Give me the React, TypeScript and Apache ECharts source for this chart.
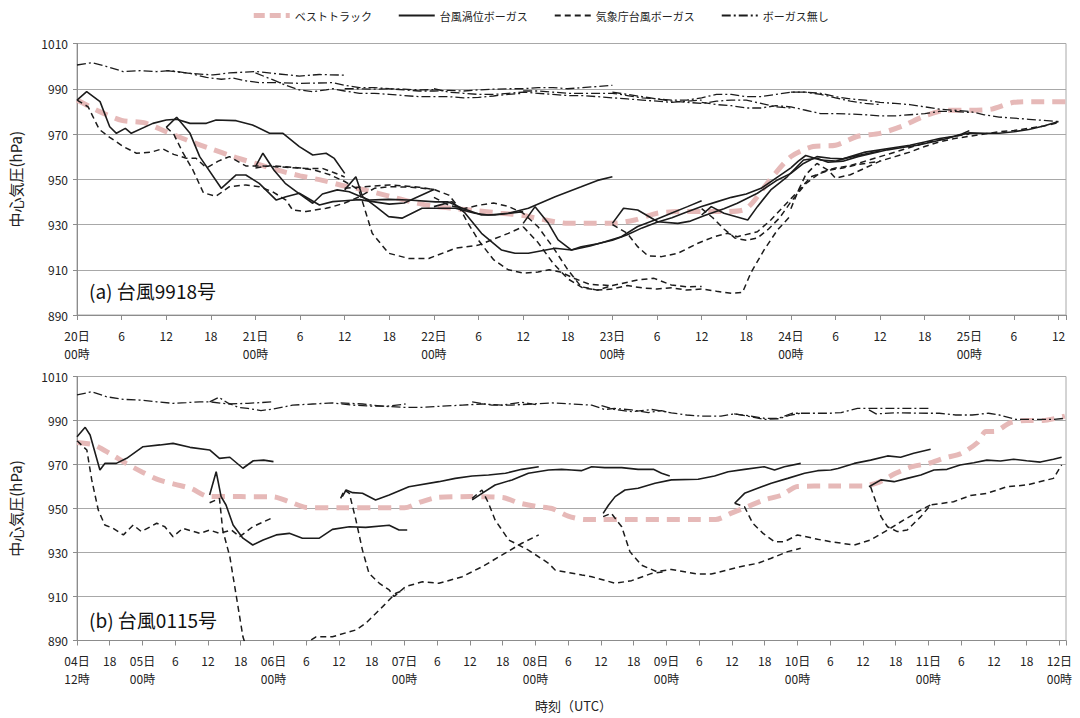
import React, { useEffect, useRef } from "react";
import * as echarts from "echarts";

// ---------- panel (a) 台風9918号 : hours from 20日00時 ----------
const A_BEST = [[0,985],[3,980],[6,976],[9,975],[12,971],[15,967],[18,963.5],[21,960],[24,957],[27,954],[30,951.5],[33,949.5],[36,947],[39,945],[42,942.5],[45,940],[48,938],[51,937],[54,936],[57,935],[60,934],[63,932],[66,930.5],[69,930.5],[72,930.5],[75,932],[78,935],[81,935.7],[84,935.7],[87,935.7],[90,937],[93,949],[96,960],[99,964.5],[102,965],[105,969],[108,970.3],[111,973.5],[114,978],[117,980.5],[120,980.5],[123,981],[126,984],[129,984.3],[133,984.3]];

const A_PV_00 = [[0,985],[1.3,988.7],[3.1,984.3],[4.4,973.2],[5.3,970.3],[6.5,972.5],[7.3,970.3],[10.2,974.7],[12,976.2],[13.4,976.5],[15.2,974.7],[17.4,974.7],[18.7,976.2],[21.4,975.9],[23.6,974],[25.9,970.3],[27.7,970.3],[29.9,964.4],[31.7,960.7],[33.5,961.5],[34.6,959.2],[36,952.6]];
const A_PV_12 = [[12,972.9],[13.4,977.4],[15.2,970.3],[16.5,960],[19.4,946],[21.4,951.9],[22.7,951.9],[24.5,948.2],[26.8,940.8],[28.1,942.3],[29.9,943.8],[32.6,938.6],[34.4,940.1],[36,940.5],[38,941],[40,940],[42,939],[44,939.5],[46,942.5],[48,945.5]];
const A_PV_24 = [[24,955.6],[25,961.5],[26.5,954],[28,948.2],[29.5,944.5],[31.7,939.4],[33,943.5],[35,945.3],[36.6,944.5],[38.2,942.3],[39.3,940.8],[41.9,941.1],[44.6,940.8],[48.2,940],[49.9,940],[51.8,937.2],[54.4,934.2],[56.2,934.2],[60,935.7]];
const A_PV_36 = [[36,945.3],[37.5,951.1],[38.4,942.3],[40.2,937.9],[41.9,933.5],[43.7,932.8],[46.4,937.2],[50.9,937.2],[53.5,935],[55.3,934.2],[58,935],[60.7,937.2],[64.3,942.3],[67.8,946.7],[70,949.5],[72,951.1]];
const A_PV_48 = [[48,937.9],[50.4,940.1],[52.2,935],[54.4,926.1],[57.1,918.7],[58.9,917.3],[60.7,917.3],[64.3,919.5],[66.5,918.7],[69,920.5],[71,922.4],[73.2,924.6],[75.4,929.1],[77.7,932],[79.9,935],[82.1,937.9],[84,940.5]];
const A_PV_60 = [[60,930.5],[61.6,937.9],[63.4,930.5],[64.7,923.2],[66.5,918.7],[67.8,920.2],[70,921.5],[72,923],[74,925.5],[76,928.5],[78,931],[80,933],[82,935.5],[84,938],[86,940],[88,942],[90,943.5],[92,946],[94,950.5],[96,955]];
const A_PV_72 = [[72,930.5],[73.5,937.2],[75.4,936.4],[78.1,931.2],[80.8,930.5],[82.5,931.5],[84.4,934],[87,937],[88.8,939.4],[91.5,943.8],[94.2,949.7],[96,952.6],[97.7,957],[99.5,960],[101.3,959.3],[103,959],[105,960.5],[108,962.5]];
const A_PV_84 = [[84,934.2],[85.3,937.9],[87,935],[90.2,932],[91.5,937.9],[93.3,945.3],[95.5,951.1],[97.7,958.5],[99.5,959.3],[101,957.5],[103,958],[105,960],[107,961.5],[109,963],[111,964],[113,965],[115,966.5],[117,968],[119,970],[120,971.5]];
const A_PV_96 = [[96,955],[97,958],[98,960.5],[100,958.5],[102,958],[104,960],[106,962],[108,963],[110,964],[112,965],[114,966.5],[116,968],[118,969],[120,970.5],[122,970.3],[124,970.3],[126,971],[128,972],[130,973.5],[132,975.5]];

const A_JMA_00 = [[0,985],[1.5,982],[3,972],[4.4,968.5],[6.2,964.5],[8,961.5],[10,962],[11.5,963.5],[13,961],[14.7,959.3],[16,959.3],[17.4,955],[19,958],[20.5,960],[22.7,955.9],[24.5,955.9],[28.1,955.3],[30.8,954.8],[33,954.8],[34.5,953],[36,951]];
const A_JMA_12 = [[12,973],[13,970],[14.2,962],[15.6,954],[17,944],[18.7,942.5],[20.5,946.7],[22.7,947.5],[24.5,946.7],[26.3,944.5],[28.1,940.8],[29,936.4],[30.8,935.7],[33.5,937.2],[34.4,937.9],[36,939.5],[38,942.3],[40,946],[42,946.7],[45,946.5],[48,945.5]];
const A_JMA_24 = [[24,955],[26,956],[28,955.5],[30,955],[32,954],[34,952],[36,949],[37.9,945.3],[39.7,926.1],[41.9,917.3],[44.6,915],[47.3,915],[50.9,919.5],[54,920.9],[58,926.1],[60,929]];
const A_JMA_36 = [[36,946],[38,946.5],[40,947],[42,947.5],[44,947],[46,946.5],[48,945.5],[50,943],[51.5,937],[52.5,931],[54,923],[56,914.5],[58,910],[60,908.5],[62,909],[63.5,910],[65,909],[67,906],[69,903.5],[72,903]];
const A_JMA_48 = [[48,942],[50,938.5],[52,937],[54,938.5],[56,939.5],[58,938],[60,935],[62,929],[64,920],[66,910],[67.8,902.5],[70,901],[72,903],[75.4,905.5],[77.6,906.2],[79.9,903.3],[82,902.5],[84,902.6]];
const A_JMA_60 = [[60,929],[62,922],[64,913],[66,906],[68,902],[70,901],[72,901.5],[74,903],[76,902],[78,901.5],[80,902],[82,901],[84,901.5],[86,900.5],[88,899.6],[89.5,900],[90.6,908.5],[92.4,918.8],[94.2,927.6],[96,934]];
const A_JMA_72 = [[72,930],[74,926.1],[75.4,920.2],[76.8,916.1],[78.6,915.8],[80.8,917.3],[83.5,921.7],[85.7,924.6],[87.5,926.1],[88.8,924.6],[91.5,926.8],[93.3,932],[95,937.9],[96.9,944.5],[98.7,951.1],[101.3,954.1],[103,955],[105,956.5],[108,958]];
const A_JMA_84 = [[84,937],[85.5,933],[87,928],[88.5,924],[90,923],[91.5,924],[93,928],[94.5,933],[96,940],[98,948],[100,953],[102,955],[104,956],[106,958],[108,960],[110,962],[112,964],[114,966],[116,967.5],[118,969],[120,970]];
const A_JMA_96 = [[96,937],[97,945],[98,952],[99.5,957],[101,954],[102,950.5],[104,952],[106,955],[108,958],[110,960],[112,962],[114,964.5],[116,966.5],[118,968],[120,969],[122,970],[124,971],[126,971.5],[128,972.5],[130,973.5],[132,975]];

const A_NONE_00 = [[0,1000.5],[2,1001.5],[4,999.8],[6.2,997.6],[8.5,998],[10.7,997.6],[12.5,998],[15.2,996.8],[18.3,996.1],[20.5,997],[24.1,997.6],[26.3,996.8],[29.9,995.6],[32.6,996.3],[36,996]];
const A_NONE_12 = [[12,998],[15.2,996.8],[17.4,995],[19.4,994.2],[21,994.7],[22.7,993.5],[24.5,992.7],[27,992.7],[29.9,992.4],[32,992.5],[34.4,992.7],[36,991.5],[38,990.5],[40,990.5],[42,990],[44,989.8],[46,989.5],[48,989.6]];
const A_NONE_24 = [[24,997],[26.3,994],[28.1,991.5],[29.9,989.5],[31.7,988.7],[33.5,989.5],[34.4,990],[36,989],[38,988],[40,988],[42,987.5],[44,987],[46,986.5],[48,986.5],[50,986.5],[52,986],[54,986.2],[56,986.8],[58,987.5],[60,988]];
const A_NONE_36 = [[36,990],[38,990],[40,989.8],[42,990],[44,989.5],[46,989],[48,989],[50,989.3],[52,989],[54,989.5],[56,989.8],[58,990],[60,990],[62,990.5],[64,990.5],[66,990],[68,990.5],[70,991],[72,991.5]];
const A_NONE_48 = [[48,990],[50,988.5],[52,988],[54,987.5],[56,987.5],[58,988],[60,988.5],[62,988],[64,987.5],[66,987],[68,987],[70,986.5],[72,986],[74,985.5],[76,985],[78,984.5],[80,984],[82,984.5],[84,985]];
const A_NONE_60 = [[60,989],[62,989],[64,988.5],[66,988],[68,988],[70,988],[72,988],[74,987],[76,986],[78,985.5],[80,984.5],[82,984],[84,983.5],[86,984.5],[88,985],[90,985],[92,983.5],[94,982],[96,981.5]];
const A_NONE_72 = [[72,988.5],[74,987.5],[76,986.5],[78,985.5],[80,985],[82,985],[84,986],[86,987.5],[88,987.5],[90,986.5],[92,986.5],[94,987.5],[96,988.5],[98,988.5],[100,987.5],[102,986],[104,984.5],[106,983.5],[108,983]];
const A_NONE_84 = [[84,984],[86,983],[88,982.5],[90,981.5],[92,981.5],[94,982.5],[96,982],[98,980.5],[100,979],[102,979],[104,978.8],[106,978.5],[108,978],[110,978],[112,978.5],[114,979],[116,980],[118,980],[120,979.5]];
const A_NONE_96 = [[96,988.5],[98,988.5],[100,988],[102,986.5],[104,985.5],[106,985],[108,984],[110,983.5],[112,983],[114,982],[116,981],[118,980.5],[120,980],[122,978.5],[124,977.5],[126,977],[128,976.5],[130,976],[132,975.5]];

// ---------- panel (b) 台風0115号 : hours from 04日12時 ----------
const B_BEST = [[0,980],[3,979],[6,975],[9,970.5],[12,966.5],[15,963],[18,961],[21,959],[24,955.5],[30,955.4],[36,955.3],[39,953],[42,950.5],[48,950.3],[54,950.3],[60,950.3],[63,953],[66,955],[72,955.4],[78,955],[81,952.5],[84,951],[87,950],[90,946.5],[93,945],[96,945],[102,945],[108,945],[114,945],[117,945],[120,948],[123,951],[126,954],[129,956],[132,960],[138,960.2],[144,960.2],[147,962],[150,966],[153,969],[156,970.5],[159,973],[162,975],[165,980],[166.5,985],[168,985],[171,989],[174,990],[177,990],[181,992]];

const B_PV_00 = [[0,982.6],[1.5,986.9],[2.4,983.4],[4.2,967.5],[5.1,970.5],[7.2,970.5],[9.1,972.8],[12.1,978.1],[15.2,978.9],[17.6,979.6],[20.7,977.8],[24.3,976.6],[26.1,972.8],[28,973.3],[30.4,968.3],[32.3,971.7],[34.2,972],[36,971.3]];
const B_PV_24 = [[24.3,956.1],[25.5,966.7],[26.4,955.4],[27.3,951.6],[28.6,942.5],[30.4,936.5],[32.2,933.4],[34.1,935.7],[36.5,938],[38.9,938.7],[41.3,936.5],[44.4,936.5],[46.8,940.5],[49.9,941.7],[52.9,941.4],[57.2,942.4],[59,940.2],[60.5,940.2]];
const B_PV_48 = [[48.6,955.4],[49.3,958.4],[50.5,957.2],[52.3,956.9],[54.7,953.9],[57.2,956.1],[60.8,959.9],[66.3,962.2],[69.3,963.7],[72.4,964.8],[75.4,965.2],[78.5,966],[81.5,967.8],[84.6,969]];
const B_PV_72 = [[72.4,953.9],[74.2,956.9],[76.6,960.7],[79.7,963],[82.7,966],[86.4,967.5],[88.8,967.8],[90.6,967.5],[92.4,967.2],[94.3,969],[96.7,968.6],[99.8,968.6],[102.8,967.8],[105.6,967.8],[107.1,966],[108.6,964.8]];
const B_PV_96 = [[96.4,947.8],[97.4,951.6],[98.6,955.4],[100.4,958.4],[102.8,959.2],[105.9,961.5],[108.9,963],[113.8,963.3],[116.8,964.8],[119.3,966.7],[122.3,967.8],[125.9,969],[127.8,967.5],[129.6,969],[132.6,970.5]];
const B_PV_120 = [[120.5,952.4],[122.3,956.9],[124.7,959.2],[127.2,961.5],[130.2,963.7],[133.3,966],[135.7,967.2],[138.1,967.5],[139.4,968.2],[142.4,970.5],[145.4,972],[148.5,973.9],[150.9,973.3],[153.3,975.1],[156.4,976.9]];
const B_PV_144 = [[145.1,959.9],[147.3,963],[149.7,962.2],[152.1,963.7],[154.6,965.2],[157,967.5],[159.4,967.8],[161.8,969.8],[164.3,970.8],[166.7,972],[169.2,971.6],[171.6,972.4],[174,971.7],[176.5,971.1],[178.9,972.4],[180.4,973.3]];

const B_JMA_00 = [[0,980.8],[1.8,976.6],[2.7,963],[3.9,949.3],[5.1,942.5],[6.6,941],[8.5,938],[10.3,942.5],[11.8,939.5],[14.6,943.3],[16.1,941.7],[17.6,937.2],[19.4,941],[22.5,938.7],[24.3,940.2],[26.1,938.7],[28.3,940.2],[29.8,937.2],[32.2,941.7],[36,946]];
const B_JMA_24 = [[24.3,952.6],[26.1,954.6],[26.7,940.2],[28,928.1],[29.2,910],[30.4,891.7],[33,872],[37,868],[41.5,888],[43.8,891.7],[46.8,891.7],[51.1,894.8],[52.9,897.8],[56,905.4],[58.4,911.5],[60,913]];
const B_JMA_48 = [[48.3,954.6],[49,958.4],[49.9,956.9],[51.1,944.8],[52.3,931.1],[53.5,920.5],[55.4,916],[57.2,913],[58.1,910],[60.2,914.5],[63.3,916.7],[66.3,916],[70.6,919],[74.2,923.5],[77.9,928.9],[81.5,934.2],[84.6,938]];
const B_JMA_72 = [[72.4,954.6],[74.2,958.4],[75.4,952.4],[76.6,944.8],[79.1,935.7],[82.7,931.1],[86.4,925.1],[87.6,922],[92.5,919.8],[94.3,919],[98.6,916],[101.6,917.2],[105.3,920.5],[108,921.3]];
const B_JMA_96 = [[96.4,946.3],[97.9,947.8],[99.8,941.7],[101.3,930.4],[103.4,924.3],[106.2,921.3],[108.9,922.3],[113.8,920.2],[116.2,920.2],[121.1,923.3],[124.7,925.1],[127.2,927.4],[130.2,930.4],[132.6,931.9]];
const B_JMA_120 = [[120.5,952.4],[122.3,950.8],[123.8,943.3],[125.7,938.7],[127.8,934.9],[129.6,934.9],[132,938],[135.7,936],[138.1,934.9],[142.4,933.4],[145.4,935.7],[148.5,940.2],[151.5,944.8],[154.6,949.3],[156.4,951.6]];
const B_JMA_144 = [[145.4,959.9],[147.3,946.3],[148.5,941.7],[150.3,939.5],[152.1,940.2],[154.6,946.3],[156.4,951.6],[160.6,953.1],[163.7,955.9],[166.7,956.9],[170.4,959.9],[174,960.7],[178.9,963.7],[180.4,969.8]];

const B_NONE_00 = [[0,1001.6],[2.7,1003.1],[5.4,1000.8],[8.5,999.6],[11.5,999.3],[14.6,998.5],[17.6,997.8],[20,998.1],[22.5,998.5],[24.3,998.5],[27.6,997.5],[31.3,997.8],[36,998.5]];
const B_NONE_24 = [[24.3,998.5],[26,1000.5],[27.6,998],[29.5,996],[31.3,995.5],[33.7,994.5],[35.9,995.2],[39.5,997],[43.2,997.5],[46.8,998],[50.5,997],[54.1,996.5],[56.9,996.5],[60.2,997.5]];
const B_NONE_48 = [[48.3,998],[52.3,997.5],[56,996.5],[59.6,996],[63.3,996],[66.9,996.5],[70.6,997],[74.2,997.5],[77.9,997],[81.5,998.3],[84.6,997]];
const B_NONE_72 = [[72.4,998.5],[76,997],[79.7,997],[83.3,997.5],[87,998],[90.6,997.5],[94.3,997],[96.7,995],[98.5,995.5],[101.6,994.8],[104.7,993.6],[107.1,994.5],[108.5,993.6]];
const B_NONE_96 = [[96.1,996.8],[98.5,995],[101.6,994],[105.3,995],[108.9,993.5],[111.7,992.5],[114.4,992],[118,992],[120.4,993],[123.5,991.7],[125.9,990.5],[128.5,990.8],[130.8,992.5],[132.6,993.3]];
const B_NONE_120 = [[120.4,993],[123.5,992],[126,991],[128.5,991],[131,993.3],[135,993.3],[138,993.3],[140,993.6],[143,995.5],[148,995.5],[152,995.5],[156.4,995.5]];
const B_NONE_144 = [[145.1,994.8],[146.4,993],[150,993.5],[156,993.3],[158,993.3],[161,992.5],[164,992.5],[167,993.3],[169,992.5],[172,990.5],[179,990.5],[181,991]];

const Y_MIN = 890;
const Y_MAX = 1010;
const Y_STEP = 20;
const A_X_MAX = 133;
const B_X_MAX = 181.2;

const FONT = "'Noto Sans CJK JP', 'Noto Sans', sans-serif";
const INK = "#1c1c1c";
const PINK = "#e6b9b8";
const GRID_C = "#a8a8a8";
const AXIS_C = "#8c8c8c";

const NAMES = {
  best: "ベストトラック",
  pv: "台風渦位ボーガス",
  jma: "気象庁台風ボーガス",
  none: "ボーガス無し",
};

const LINE: Record<string, any> = {
  best: { color: PINK, width: 5, type: [13, 8] },
  pv: { color: INK, width: 1.6, type: "solid" },
  jma: { color: INK, width: 1.5, type: [6, 4] },
  none: { color: INK, width: 1.3, type: [9, 3, 2, 3] },
};

function mk(kind: string, data: number[][], idx: number) {
  const ls = LINE[kind];
  return {
    type: "line",
    name: NAMES[kind as keyof typeof NAMES],
    data,
    xAxisIndex: idx,
    yAxisIndex: idx,
    symbol: "none",
    showSymbol: false,
    smooth: kind === "best" ? 0.25 : false,
    clip: true,
    silent: true,
    lineStyle: { color: ls.color, width: ls.width, type: ls.type, cap: "butt" },
    itemStyle: { color: ls.color },
  };
}

const fmtA = (v: number) => {
  if (Math.abs(v % 6) > 1e-6 || v > 132) return "";
  const d = 20 + Math.floor(v / 24);
  const h = v % 24;
  return h === 0 ? `${d}日\n00時` : String(h);
};
const fmtB = (v: number) => {
  if (Math.abs(v % 6) > 1e-6 || v > 180) return "";
  if (v === 0) return "04日\n12時";
  const t = v + 12;
  const d = 4 + Math.floor(t / 24);
  const h = t % 24;
  return h === 0 ? `${String(d).padStart(2, "0")}日\n00時` : String(h);
};

function xAxis(idx: number, max: number, fmt: (v: number) => string) {
  return {
    type: "value",
    gridIndex: idx,
    min: 0,
    max,
    interval: 6,
    axisLine: { show: true, lineStyle: { color: AXIS_C, width: 1 } },
    axisTick: { show: true, inside: false, length: 5, lineStyle: { color: AXIS_C } },
    splitLine: { show: false },
    axisLabel: {
      formatter: fmt,
      color: "#222",
      fontFamily: FONT,
      fontSize: 12,
      lineHeight: 18,
      margin: 11,
      showMinLabel: true,
      showMaxLabel: true,
      hideOverlap: false,
    },
  };
}

function yAxis(idx: number) {
  return {
    type: "value",
    gridIndex: idx,
    min: Y_MIN,
    max: Y_MAX,
    interval: Y_STEP,
    name: "中心気圧(hPa)",
    nameLocation: "middle",
    nameRotate: 90,
    nameGap: 54,
    nameTextStyle: { fontFamily: FONT, fontSize: 15, color: "#222" },
    axisLine: { show: true, lineStyle: { color: AXIS_C, width: 1 } },
    axisTick: { show: true, length: 4, lineStyle: { color: AXIS_C } },
    splitLine: { show: true, lineStyle: { color: GRID_C, width: 1 } },
    axisLabel: { color: "#222", fontFamily: FONT, fontSize: 12, margin: 9, formatter: (v: number) => String(v) },
  };
}

export default function App() {
  const ref = useRef<HTMLDivElement>(null);
  useEffect(() => {
    if (!ref.current) return;
    const chart = echarts.init(ref.current, undefined, { renderer: "svg" });
    const series: any[] = [
      mk("best", A_BEST, 0),
      mk("pv", A_PV_00, 0), mk("pv", A_PV_12, 0), mk("pv", A_PV_24, 0), mk("pv", A_PV_36, 0), mk("pv", A_PV_48, 0),
      mk("pv", A_PV_60, 0), mk("pv", A_PV_72, 0), mk("pv", A_PV_84, 0), mk("pv", A_PV_96, 0),
      mk("jma", A_JMA_00, 0), mk("jma", A_JMA_12, 0), mk("jma", A_JMA_24, 0), mk("jma", A_JMA_36, 0), mk("jma", A_JMA_48, 0),
      mk("jma", A_JMA_60, 0), mk("jma", A_JMA_72, 0), mk("jma", A_JMA_84, 0), mk("jma", A_JMA_96, 0),
      mk("none", A_NONE_00, 0), mk("none", A_NONE_12, 0), mk("none", A_NONE_24, 0), mk("none", A_NONE_36, 0), mk("none", A_NONE_48, 0),
      mk("none", A_NONE_60, 0), mk("none", A_NONE_72, 0), mk("none", A_NONE_84, 0), mk("none", A_NONE_96, 0),
      mk("best", B_BEST, 1),
      mk("pv", B_PV_00, 1), mk("pv", B_PV_24, 1), mk("pv", B_PV_48, 1), mk("pv", B_PV_72, 1), mk("pv", B_PV_96, 1),
      mk("pv", B_PV_120, 1), mk("pv", B_PV_144, 1),
      mk("jma", B_JMA_00, 1), mk("jma", B_JMA_24, 1), mk("jma", B_JMA_48, 1), mk("jma", B_JMA_72, 1), mk("jma", B_JMA_96, 1),
      mk("jma", B_JMA_120, 1), mk("jma", B_JMA_144, 1),
      mk("none", B_NONE_00, 1), mk("none", B_NONE_24, 1), mk("none", B_NONE_48, 1), mk("none", B_NONE_72, 1), mk("none", B_NONE_96, 1),
      mk("none", B_NONE_120, 1), mk("none", B_NONE_144, 1),
    ];
    chart.setOption({
      animation: false,
      backgroundColor: "#ffffff",
      textStyle: { fontFamily: FONT },
      legend: {
        show: true,
        top: 5,
        left: "center",
        itemWidth: 36,
        itemHeight: 10,
        itemGap: 26,
        itemStyle: { opacity: 0 },
        textStyle: { fontFamily: FONT, fontSize: 11, color: "#222" },
        data: [
          { name: NAMES.best, lineStyle: { width: 5, type: [11, 5] } },
          NAMES.pv,
          NAMES.jma,
          NAMES.none,
        ],
      },
      grid: [
        { left: 73.5, top: 43.5, width: 992.5, height: 271.5, show: true, borderColor: GRID_C, borderWidth: 1, backgroundColor: "transparent" },
        { left: 73.5, top: 376.5, width: 992.5, height: 264, show: true, borderColor: GRID_C, borderWidth: 1, backgroundColor: "transparent" },
      ],
      xAxis: [xAxis(0, A_X_MAX, fmtA), xAxis(1, B_X_MAX, fmtB)],
      yAxis: [yAxis(0), yAxis(1)],
      graphic: [
        { type: "text", left: 89, top: 281, style: { text: "(a) 台風9918号", font: `19px ${FONT}`, fill: "#111" } },
        { type: "text", left: 89, top: 610, style: { text: "(b) 台風0115号", font: `19px ${FONT}`, fill: "#111" } },
        { type: "text", left: 535, top: 699, style: { text: "時刻（UTC）", font: `13px ${FONT}`, fill: "#222" } },
      ],
      series,
    });
    return () => chart.dispose();
  }, []);
  return <div ref={ref} style={{ position: "absolute", left: 0, top: 0, width: 1080, height: 718 }} />;
}
